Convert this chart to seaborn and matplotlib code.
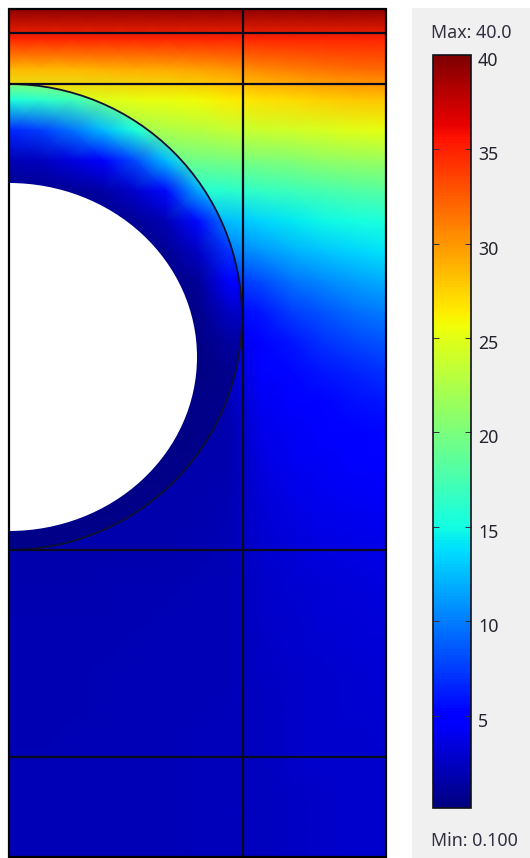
import matplotlib
matplotlib.use("Agg")
import matplotlib.pyplot as plt
from matplotlib.patches import Ellipse, Rectangle
from matplotlib.transforms import Affine2D, ScaledTranslation
import numpy as np
import seaborn as sns

# temperature outside the circle, rows top to bottom, columns left to right
outer_field = [
    [39.4] * 13,
    [34.8] * 13,
    [28.5, 28.5, 28.5, 28.8, 29.0, 29.2, 29.5, 30.0, 30.5, 31.0, 31.5, 31.8, 32.0],
    [24.5, 24.5, 24.5, 24.8, 25.2, 25.5, 25.8, 26.3, 26.8, 27.2, 27.6, 27.9, 28.0],
    [20.0, 20.5, 21.0, 21.0, 21.8, 22.5, 23.0, 23.5, 23.8, 24.2, 24.5, 25.0, 25.2],
    [16.0, 16.5, 17.0, 17.5, 18.0, 19.0, 19.5, 19.8, 20.2, 20.5, 21.0, 21.3, 21.5],
    [12.0, 12.5, 13.0, 13.5, 14.0, 15.0, 15.8, 16.0, 16.5, 17.0, 17.5, 18.0, 18.3],
    [10.0, 10.0, 10.0, 10.0, 10.5, 11.5, 12.0, 12.5, 13.5, 14.2, 14.8, 15.2, 15.5],
    [8.0, 8.0, 8.0, 8.0, 8.0, 9.0, 9.5, 10.0, 11.0, 12.0, 12.8, 13.5, 14.0],
    [6.0, 6.0, 6.0, 6.0, 6.0, 6.0, 6.5, 7.0, 8.0, 9.5, 10.5, 11.3, 11.8],
    [4.0, 4.0, 4.0, 4.0, 4.0, 4.0, 4.5, 5.0, 6.0, 7.5, 8.5, 9.3, 10.0],
    [3.0, 3.0, 3.0, 3.0, 3.0, 3.0, 3.0, 3.8, 5.0, 6.0, 7.0, 7.8, 8.5],
    [2.2, 2.2, 2.2, 2.2, 2.2, 2.2, 2.2, 2.6, 4.5, 5.3, 5.9, 6.4, 7.0],
    [1.8, 1.8, 1.8, 1.8, 1.8, 1.8, 1.8, 2.0, 4.1, 4.7, 5.1, 5.6, 6.0],
    [1.7, 1.7, 1.7, 1.7, 1.7, 1.7, 1.6, 1.8, 3.8, 4.3, 4.6, 5.0, 5.3],
    [1.7, 1.7, 1.7, 1.7, 1.7, 1.7, 1.7, 1.8, 3.5, 4.0, 4.3, 4.6, 4.8],
    [1.7, 1.7, 1.7, 1.7, 1.7, 1.7, 1.8, 1.9, 3.2, 3.7, 4.0, 4.2, 4.4],
    [1.7, 1.7, 1.7, 1.7, 1.7, 1.7, 1.8, 2.0, 3.0, 3.5, 3.7, 3.9, 4.0],
    [1.7, 1.7, 1.7, 1.8, 1.8, 1.8, 1.9, 2.1, 2.9, 3.2, 3.4, 3.6, 3.7],
    [1.8, 1.8, 1.8, 1.9, 1.9, 1.9, 2.0, 2.1, 2.7, 3.0, 3.2, 3.3, 3.4],
    [1.9, 1.9, 1.9, 1.9, 1.9, 2.0, 2.0, 2.1, 2.6, 2.9, 3.1, 3.2, 3.3],
    [1.9, 1.9, 1.9, 1.9, 2.0, 2.0, 2.1, 2.1, 2.5, 2.8, 3.0, 3.1, 3.2],
    [1.9, 1.9, 1.9, 2.0, 2.0, 2.0, 2.1, 2.1, 2.5, 2.7, 2.9, 3.0, 3.1],
    [1.9, 1.9, 1.9, 2.0, 2.0, 2.1, 2.1, 2.2, 2.4, 2.7, 2.9, 3.0, 3.0],
    [1.9, 1.9, 2.0, 2.0, 2.1, 2.1, 2.2, 2.2, 2.4, 2.6, 2.8, 2.9, 3.0],
    [2.0, 2.0, 2.0, 2.0, 2.1, 2.1, 2.2, 2.2, 2.3, 2.6, 2.8, 2.9, 2.9],
    [2.0, 2.0, 2.0, 2.0, 2.1, 2.1, 2.2, 2.2, 2.3, 2.5, 2.7, 2.8, 2.8],
    [2.0, 2.0, 2.0, 2.0, 2.1, 2.1, 2.2, 2.2, 2.3, 2.5, 2.7, 2.8, 2.8],
    [2.0, 2.0, 2.0, 2.0, 2.1, 2.1, 2.2, 2.2, 2.3, 2.5, 2.7, 2.8, 2.8],
]

# temperature inside the circle, starts at the third row of outer_field
ring_field = [
    [24.0, 24.0, 24.0, 24.0, 24.0, 24.0, 24.0, 24.0, 24.0],
    [15.5, 16.0, 17.0, 19.0, 21.0, 21.0, 21.0, 21.0, 21.0],
    [6.5, 7.5, 9.5, 12.5, 15.5, 19.0, 20.0, 20.0, 20.0],
    [2.0, 2.4, 3.4, 5.0, 8.0, 12.5, 17.0, 18.0, 18.0],
    [0.6, 0.7, 1.0, 1.5, 2.8, 5.5, 11.5, 14.0, 14.5],
    [0.3, 0.3, 0.4, 0.5, 0.9, 2.0, 5.5, 10.0, 10.5],
    [0.3, 0.3, 0.3, 0.3, 0.4, 0.8, 2.5, 7.0, 7.5],
    [0.3, 0.3, 0.3, 0.3, 0.3, 0.4, 1.0, 4.5, 5.0],
    [0.3, 0.3, 0.3, 0.3, 0.3, 0.3, 0.5, 2.5, 3.0],
    [0.3, 0.3, 0.3, 0.3, 0.3, 0.3, 0.4, 1.2, 1.5],
    [0.3, 0.3, 0.3, 0.3, 0.3, 0.3, 0.4, 0.7, 1.0],
    [0.4, 0.4, 0.4, 0.4, 0.4, 0.4, 0.5, 0.6, 0.8],
    [0.4, 0.4, 0.4, 0.4, 0.4, 0.4, 0.5, 0.6, 0.8],
    [0.4, 0.4, 0.4, 0.4, 0.4, 0.5, 0.5, 0.6, 0.8],
    [0.4, 0.4, 0.4, 0.4, 0.5, 0.5, 0.6, 0.6, 0.8],
    [0.5, 0.5, 0.5, 0.5, 0.5, 0.5, 0.6, 0.6, 0.8],
    [0.5, 0.5, 0.5, 0.5, 0.5, 0.5, 0.6, 0.6, 0.8],
]

scale_ticks = [5, 10, 15, 20, 25, 30, 35, 40]
scale_min = 0.1
scale_max = 40.0
max_label = "Max: 40.0"
min_label = "Min: 0.100"

W, H = 530, 858
X0, X1, Y0, Y1 = 9, 386, 9, 857
DX = (X1 - X0) / 12
DY = (Y1 - Y0) / 28

plt.rcParams["font.family"] = ["Noto Sans", "DejaVu Sans"]


def pixel_axes(fig, left, top, right, bottom):
    return fig.add_axes([left / W, 1 - bottom / H, (right - left) / W, (bottom - top) / H])


def draw_field(ax, values, row0, **kws):
    sns.heatmap(
        np.array(values), ax=ax, cmap="jet", vmin=scale_min, vmax=scale_max,
        xticklabels=False, yticklabels=False, shading="gouraud", **kws,
    )
    mesh = ax.collections[-1]
    mesh.set_transform(
        Affine2D().scale(DX, DY).translate(X0, Y0 + row0 * DY) + ax.transData
    )
    return mesh


fig = plt.figure(figsize=(W / 100, H / 100), dpi=100, facecolor="white")
fig.patches.append(Rectangle((412 / W, 0), 118 / W, 1 - 8 / H, transform=fig.transFigure,
                             facecolor="#f0f0f0", edgecolor="none", figure=fig, zorder=-1))

ax = pixel_axes(fig, X0, Y0, X1, Y1)
cax = pixel_axes(fig, 433, 55, 471, 808)

draw_field(ax, outer_field, 0, cbar_ax=cax)
ring_mesh = draw_field(ax, ring_field, 2, cbar=False)
ax.set_xlim(X0, X1)
ax.set_ylim(Y1, Y0)

outer_circle = Ellipse((X0, 317), 466, 466, facecolor="none", edgecolor="#101030", lw=1.3, zorder=4)
ax.add_patch(outer_circle)
ring_mesh.set_clip_path(outer_circle)
ax.add_patch(Ellipse((X0, 357), 376, 348, facecolor="white", edgecolor="none", zorder=3))

for y in [33, 84, 550, 757]:
    ax.axhline(y, color="#0a0a1e", lw=1.6, zorder=5)
ax.axvline(243, color="#0a0a1e", lw=1.6, zorder=5)
ax.add_patch(Rectangle((X0, Y0), X1 - X0, Y1 - Y0, facecolor="none", edgecolor="black",
                       lw=1.6, zorder=6, clip_on=False))

cbar = ax.collections[0].colorbar
cbar.outline.set_linewidth(1.2)
cbar.outline.set_edgecolor("#101018")
cbar.set_ticks(scale_ticks)
cax.tick_params(axis="y", direction="in", left=True, right=True, labelleft=False,
                labelright=True, length=4, width=0.7, color="#303040",
                labelsize=12.8, labelcolor="#25252f", pad=5)
# labels sit a little below their tick in the reference
label_shift = ScaledTranslation(0, -0.04, fig.dpi_scale_trans)
for tick in cax.yaxis.get_major_ticks():
    tick.label2.set_transform(tick.label2.get_transform() + label_shift)

fig.text(431 / W, 1 - 33 / H, max_label, fontsize=12.8, color="#303040", va="center", ha="left")
fig.text(431 / W, 1 - 841 / H, min_label, fontsize=12.8, color="#303040", va="center", ha="left")

fig.savefig("out.png", dpi=100)
